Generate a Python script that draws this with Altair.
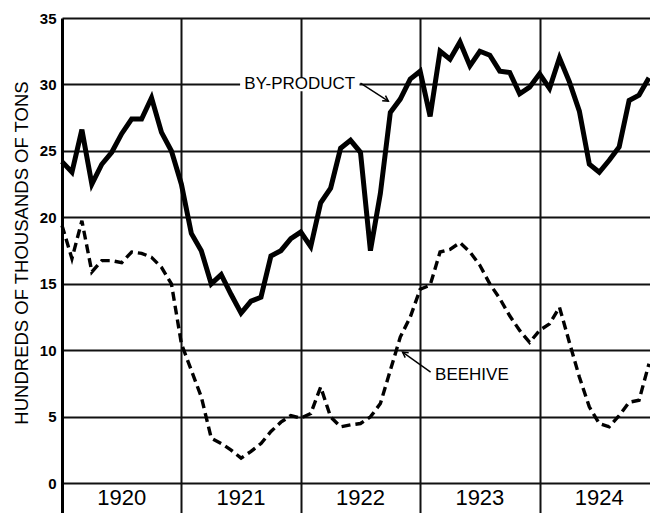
import altair as alt
import pandas as pd

# Month index 0 = Jan 1920 ... 59 = Dec 1924
months = list(range(60))
byproduct = [24.2, 23.4, 26.6, 22.5, 24.0, 24.9, 26.3, 27.4, 27.4, 29.0, 26.4, 25.0,
             22.5, 18.8, 17.5, 15.0, 15.7, 14.2, 12.8, 13.7, 14.0, 17.1, 17.5, 18.4,
             18.9, 17.8, 21.1, 22.2, 25.2, 25.8, 24.9, 17.5, 21.8, 27.9, 28.9, 30.4,
             31.0, 27.6, 32.5, 31.9, 33.2, 31.4, 32.5, 32.2, 31.0, 30.9, 29.3, 29.8,
             30.8, 29.7, 32.0, 30.2, 28.0, 24.0, 23.4, 24.3, 25.3, 28.8, 29.2, 30.5]
beehive = [19.4, 16.9, 19.75, 15.9, 16.75, 16.75, 16.6, 17.4, 17.3, 17.0, 16.25, 15.0,
           10.5, 8.5, 6.5, 3.4, 3.0, 2.5, 1.9, 2.4, 3.0, 3.9, 4.6, 5.1,
           4.9, 5.25, 7.25, 5.0, 4.25, 4.4, 4.5, 5.0, 6.0, 8.5, 11.0, 12.5,
           14.6, 14.9, 17.4, 17.6, 18.1, 17.4, 16.4, 15.0, 13.9, 12.6, 11.5, 10.6,
           11.5, 12.0, 13.25, 10.6, 8.0, 5.75, 4.5, 4.25, 5.1, 6.1, 6.25, 9.0]

year_labels = ["1920", "1921", "1922", "1923", "1924"]
year_mid = [6, 18, 30, 42, 54]
year_bounds = [12, 24, 36, 48]
y_ticks = [0, 5, 10, 15, 20, 25, 30, 35]

ann_labels = ["BY-PRODUCT", "BEEHIVE"]
ann_t = [23.9, 41.2]
ann_v = [30.0, 8.15]
arrow_t0 = [30.0, 37.05]
arrow_v0 = [30.1, 8.37]
arrow_t1 = [32.8, 34.23]
arrow_v1 = [28.75, 9.87]
arrow_angle = [33, 215]

FONT = "Liberation Sans"

df = pd.DataFrame({"t": months, "byproduct": byproduct, "beehive": beehive})
years_df = pd.DataFrame({"t": year_mid, "label": year_labels, "v": [-1.1] * 5})
ann_df = pd.DataFrame({"t": ann_t, "v": ann_v, "label": ann_labels})
arrow_df = pd.DataFrame({"t0": arrow_t0, "v0": arrow_v0, "t1": arrow_t1,
                         "v1": arrow_v1, "angle": arrow_angle})
mask_df = pd.DataFrame({"t0": [17.9], "t1": [29.9], "v0": [29.5], "v1": [30.5]})

xscale = alt.Scale(domain=[0, 59.1], nice=False, zero=False)
yscale = alt.Scale(domain=[-2.23, 35], nice=False, zero=False)

xaxis = alt.Axis(values=year_bounds, grid=True, labels=False, ticks=False,
                 domain=False, title=None, gridColor="#111", gridWidth=2,
                 gridOpacity=1)
yaxis = alt.Axis(values=y_ticks, grid=True, gridColor="#111", gridWidth=1.8,
                 gridOpacity=1, domainColor="#000", domainWidth=3, ticks=False,
                 labelFont=FONT, labelFontWeight="bold", labelFontSize=15,
                 labelColor="#000", labelPadding=6,
                 title="HUNDREDS OF THOUSANDS OF TONS", titleFont=FONT,
                 titleFontSize=18.5, titleFontWeight="normal", titleColor="#000",
                 titleAngle=270, titleX=-41, titleY=234.5, titleAlign="center",
                 titleBaseline="middle")

mask = alt.Chart(mask_df).mark_rect(color="white").encode(
    x=alt.X("t0:Q", scale=xscale, axis=xaxis),
    x2="t1:Q",
    y=alt.Y("v0:Q", scale=yscale, axis=yaxis),
    y2="v1:Q",
)

line_bp = alt.Chart(df).mark_line(color="#000", strokeWidth=5,
                                   strokeJoin="miter").encode(
    x=alt.X("t:Q", scale=xscale),
    y=alt.Y("byproduct:Q", scale=yscale),
)

line_bh = alt.Chart(df).mark_line(color="#000", strokeWidth=3.4,
                                   strokeDash=[9, 5]).encode(
    x=alt.X("t:Q", scale=xscale),
    y=alt.Y("beehive:Q", scale=yscale),
)

years = alt.Chart(years_df).mark_text(font=FONT, fontSize=22, color="#000",
                                       baseline="middle", align="center").encode(
    x=alt.X("t:Q", scale=xscale),
    y=alt.Y("v:Q", scale=yscale),
    text="label:N",
)

ann = alt.Chart(ann_df).mark_text(font=FONT, fontSize=17, color="#000",
                                   baseline="middle", align="center").encode(
    x=alt.X("t:Q", scale=xscale),
    y=alt.Y("v:Q", scale=yscale),
    text="label:N",
)

arrows = alt.Chart(arrow_df).mark_rule(color="#000", strokeWidth=1.4).encode(
    x=alt.X("t0:Q", scale=xscale),
    x2="t1:Q",
    y=alt.Y("v0:Q", scale=yscale),
    y2="v1:Q",
)

heads = alt.Chart(arrow_df).mark_point(
    shape="M-1.6,-0.9L0,0L-1.6,0.9", filled=False, color="#000",
    strokeWidth=1.5, size=45, opacity=1).encode(
    x=alt.X("t1:Q", scale=xscale),
    y=alt.Y("v1:Q", scale=yscale),
    angle=alt.Angle("angle:Q", scale=None),
)

chart = alt.layer(mask, line_bh, line_bp, years, ann, arrows, heads).properties(
    width=588, height=495,
    autosize=alt.AutoSizeParams(type="none"),
    padding={"left": 54, "top": 10, "right": 0, "bottom": 0},
    background="white",
).configure_view(strokeWidth=0)

chart.save("out.html", embed_options={"renderer": "svg", "actions": False})
